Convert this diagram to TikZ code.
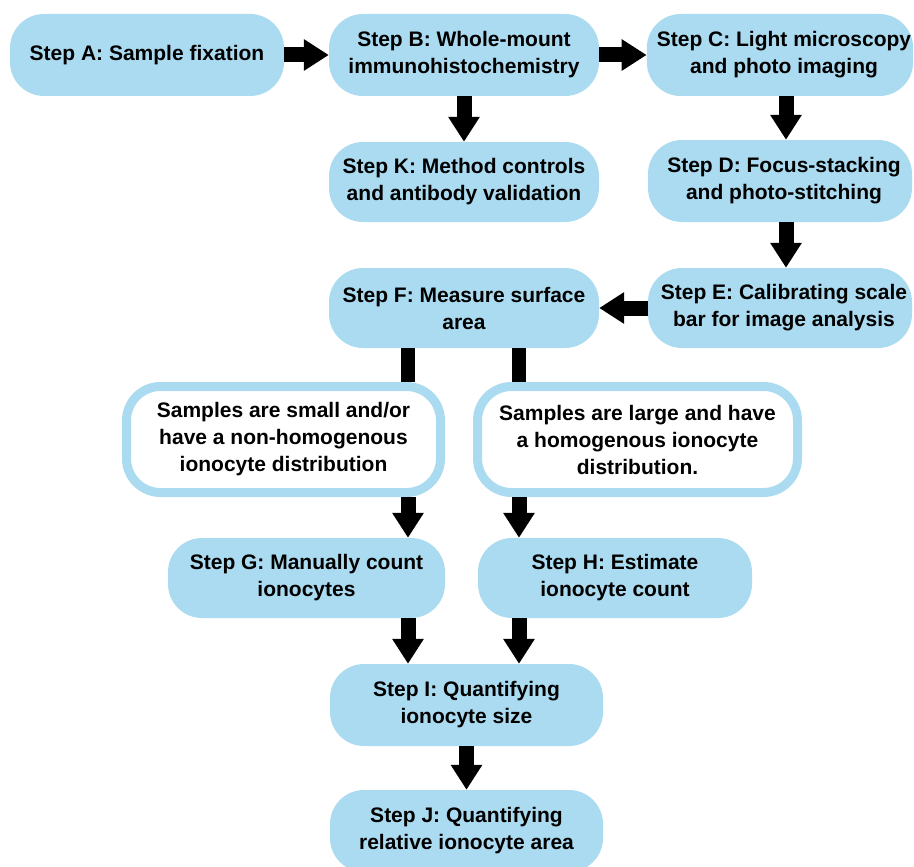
\documentclass[tikz,border=0pt]{standalone}
\usepackage{fontspec}
\setmainfont{Liberation Sans}
\usetikzlibrary{arrows.meta}
\definecolor{boxblue}{RGB}{171,219,240}
\tikzset{
  stepbox/.style={rectangle, rounded corners=34pt, fill=boxblue, align=center,
    inner sep=2pt, font=\bfseries\fontsize{21}{27}\selectfont},
  choicebox/.style={rectangle, rounded corners=34pt, draw=boxblue, line width=9pt,
    fill=white, align=center, inner sep=2pt, minimum width=314pt, minimum height=106pt,
    font=\bfseries\fontsize{21}{27}\selectfont},
  blockarrow/.style={line width=15pt, -{Triangle[width=30pt,length=25pt]}},
  blockbar/.style={line width=14pt}
}
\begin{document}
\begin{tikzpicture}[x=1pt,y=-1pt]
\useasboundingbox (0,0) rectangle (914,867);
% top row
\node[stepbox, minimum width=274pt, minimum height=82pt] (A) at (147,55) {Step A: Sample fixation};
\node[stepbox, minimum width=270pt, minimum height=82pt] (B) at (464,55) {Step B: Whole-mount\\immunohistochemistry};
\node[stepbox, minimum width=264pt, minimum height=82pt] (C) at (780,55) {\hspace*{8pt}Step C: Light microscopy\\\hspace*{8pt}and photo imaging};
% second row
\node[stepbox, minimum width=270pt, minimum height=80pt] (K) at (464,182) {Step K: Method controls\\and antibody validation};
\node[stepbox, minimum width=264pt, minimum height=82pt] (D) at (780,181) {\hspace*{8pt}Step D: Focus-stacking\\\hspace*{8pt}and photo-stitching};
% third row
\node[stepbox, minimum width=270pt, minimum height=80pt] (F) at (464,308) {Step F: Measure surface\\area};
\node[stepbox, minimum width=264pt, minimum height=80pt] (E) at (780,308) {\hspace*{8pt}Step E: Calibrating scale\\\hspace*{8pt}bar for image analysis};
% choice boxes
\node[choicebox] (Lw) at (283.5,439.5) {Samples are small and/or\\have a non-homogenous\\ionocyte distribution};
\node[choicebox, minimum width=320pt] (Rw) at (637.5,439.5) {Samples are large and have\\a homogenous ionocyte\\distribution.};
% counting
\node[stepbox, minimum width=277pt, minimum height=80pt] (G) at (306.5,578) {Step G: Manually count\\ionocytes};
\node[stepbox, minimum width=274pt, minimum height=80pt] (H) at (615,578) {Step H: Estimate\\ionocyte count};
% final
\node[stepbox, minimum width=273pt, minimum height=82pt] (I) at (466.5,705) {Step I: Quantifying\\ionocyte size};
\node[stepbox, minimum width=273pt, minimum height=82pt] (J) at (466.5,831) {Step J: Quantifying\\relative ionocyte area};
% helper columns
\coordinate (xr) at (786,0);
\coordinate (xl) at (408,0);
\coordinate (xm) at (519,0);
% arrows
\draw[blockarrow] (A.east) -- (B.west);
\draw[blockarrow] (B.east) -- (C.west);
\draw[blockarrow] (B.south) -- (K.north);
\draw[blockarrow] (xr |- C.south) -- (xr |- D.north);
\draw[blockarrow] (xr |- D.south) -- (xr |- E.north);
\draw[blockarrow] (E.west) -- (F.east);
\draw[blockbar] (xl |- F.south) -- (xl |- Lw.north);
\draw[blockbar] (xm |- F.south) -- (xm |- Rw.north);
\draw[blockarrow] (xl |- Lw.south) -- (xl |- G.north);
\draw[blockarrow] (xm |- Rw.south) -- (xm |- H.north);
\draw[blockarrow] (xl |- G.south) -- (xl |- I.north);
\draw[blockarrow] (xm |- H.south) -- (xm |- I.north);
\draw[blockarrow] (I.south) -- (J.north);
\end{tikzpicture}
\end{document}
